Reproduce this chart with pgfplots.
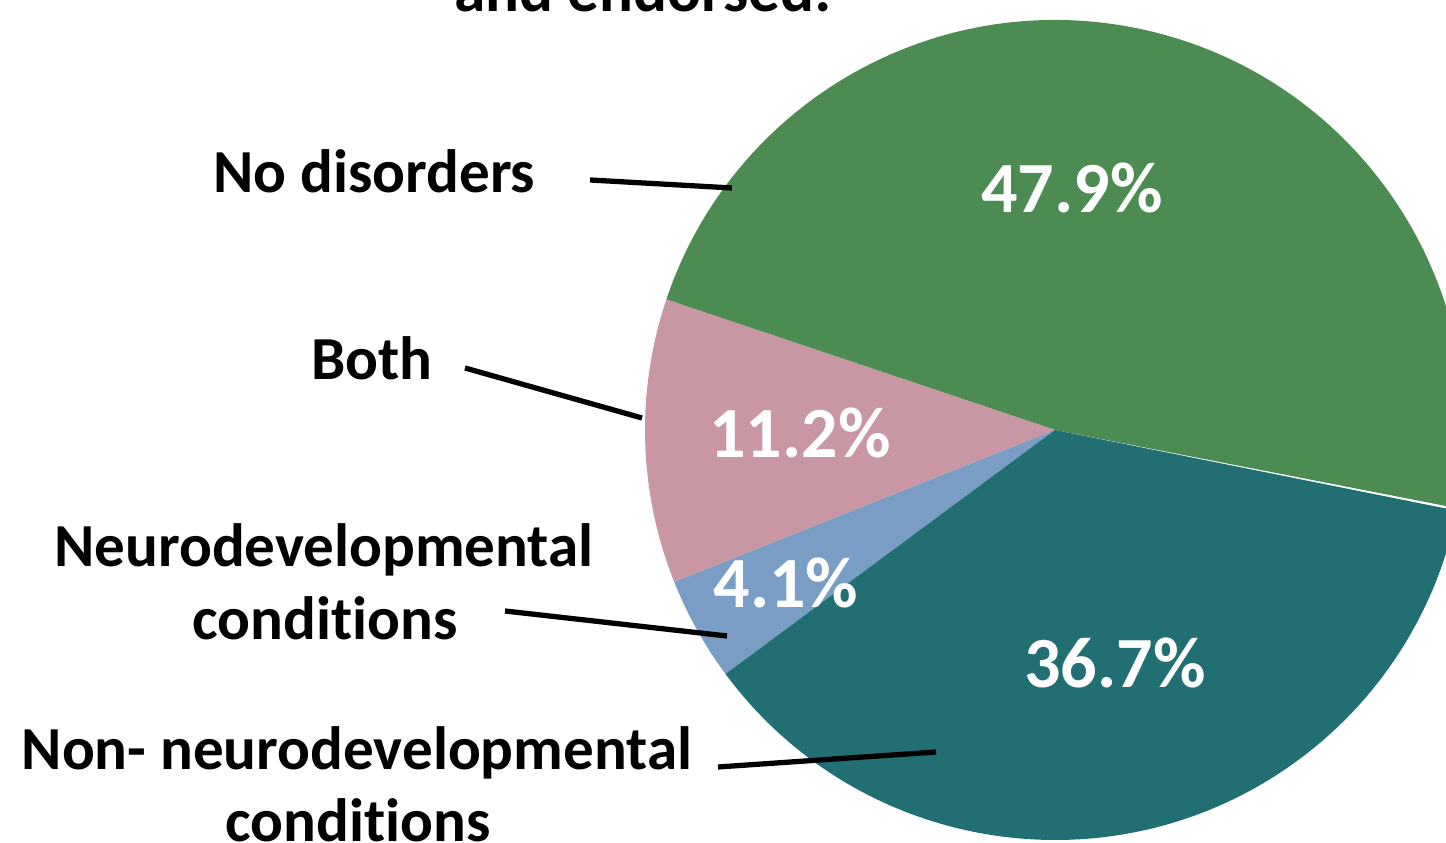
\documentclass[border=0pt]{standalone}
\usepackage{pgfplots}
\usepackage{pgfplotstable}
\pgfplotsset{compat=1.18}
\usepackage{fontspec}
\setmainfont{Carlito}[Ligatures=NoCommon]
\definecolor{cGreen}{HTML}{4C8B52}
\definecolor{cPink}{HTML}{C996A3}
\definecolor{cBlue}{HTML}{7A9DC6}
\definecolor{cTeal}{HTML}{216F73}
\pgfplotstableread{
label value
NoDisorders 47.9
Both 11.2
Neuro 4.1
NonNeuro 36.7
}\piedata
\begin{document}
\begin{tikzpicture}
\pgfplotstablegetelem{0}{value}\of\piedata \let\vA\pgfplotsretval
\pgfplotstablegetelem{1}{value}\of\piedata \let\vB\pgfplotsretval
\pgfplotstablegetelem{2}{value}\of\piedata \let\vC\pgfplotsretval
\pgfplotstablegetelem{3}{value}\of\piedata \let\vD\pgfplotsretval
\pgfmathsetmacro\aA{-11}
\pgfmathsetmacro\aB{\aA+3.6*\vA}
\pgfmathsetmacro\aC{\aB+3.6*\vB}
\pgfmathsetmacro\aD{\aC+3.6*\vC}
\pgfmathsetmacro\aE{\aD+3.6*\vD}
\useasboundingbox (0,0) rectangle (14.46cm,8.43cm);
\begin{axis}[at={(0,0)}, anchor=origin, scale only axis,
  width=14.46cm, height=8.43cm, xmin=0, xmax=1446, ymin=0, ymax=843,
  hide axis, clip=true]
\fill[cGreen] (axis cs:1055,413) -- ++(\aA:4.1cm) arc[start angle=\aA, end angle=\aB, radius=4.1cm] -- cycle;
\fill[cPink] (axis cs:1055,413) -- ++(\aB:4.1cm) arc[start angle=\aB, end angle=\aC, radius=4.1cm] -- cycle;
\fill[cBlue] (axis cs:1055,413) -- ++(\aC:4.1cm) arc[start angle=\aC, end angle=\aD, radius=4.1cm] -- cycle;
\fill[cTeal] (axis cs:1055,413) -- ++(\aD:4.1cm) arc[start angle=\aD, end angle=\aE, radius=4.1cm] -- cycle;
% leader lines
\draw[line width=1.5pt] (axis cs:590,663) -- (axis cs:732,655);
\draw[line width=1.5pt] (axis cs:465,475) -- (axis cs:642,425);
\draw[line width=1.5pt] (axis cs:505,232) -- (axis cs:727,207);
\draw[line width=1.5pt] (axis cs:718,76) -- (axis cs:936,91);
% labels
\tikzset{lab/.style={font=\fontsize{17.4}{20}\selectfont\bfseries, inner sep=0pt}}
\tikzset{pct/.style={font=\fontsize{20.5}{24}\selectfont\bfseries, text=white, inner sep=0pt, anchor=base}}
\node[lab, anchor=base] at (axis cs:643,831) {\fontsize{18}{21}\selectfont and endorsed:};
\node[lab, anchor=base east] at (axis cs:536,650) {No disorders};
\node[lab, anchor=base east] at (axis cs:433,463) {Both};
\node[lab, anchor=base] at (axis cs:324,276) {Neurodevelopmental};
\node[lab, anchor=base] at (axis cs:325,203) {conditions};
\node[lab, anchor=base] at (axis cs:357,73) {Non- neurodevelopmental};
\node[lab, anchor=base] at (axis cs:358,1) {conditions};
\node[pct] at (axis cs:1072,630) {47.9\%};
\node[pct] at (axis cs:800,385) {11.2\%};
\node[pct] at (axis cs:786,235) {4.1\%};
\node[pct] at (axis cs:1115,155) {36.7\%};
\end{axis}
\end{tikzpicture}
\end{document}
